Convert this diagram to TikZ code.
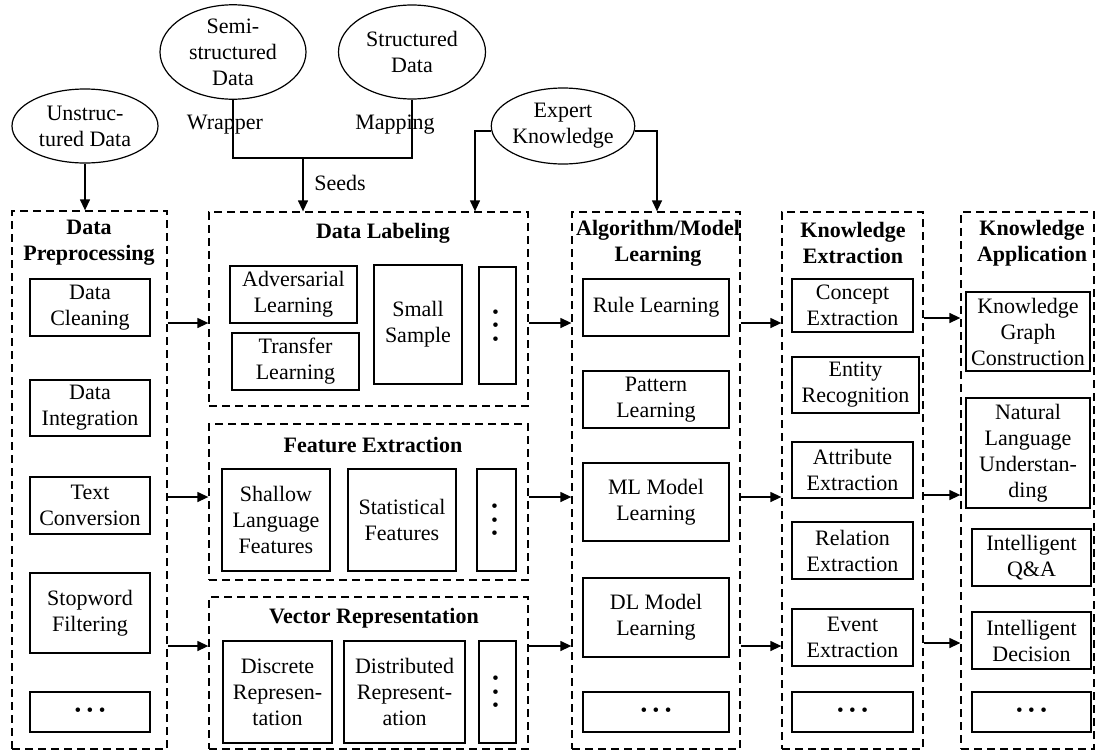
\documentclass[tikz,border=0pt]{standalone}
\usepackage{fontspec}
\setmainfont{Liberation Serif}
\usetikzlibrary{shapes.geometric,arrows.meta}

% rectangle node given by its two corners: style, name, x1, y1, x2, y2, text
\newcommand\putbox[7]{%
  \node[#1, minimum width={(#5-#3)*1pt}, minimum height={(#6-#4)*1pt}]
    (#2) at ({(#3+#5)/2},{(#4+#6)/2}) {#7};}
\newcommand\rowdots{\textbullet\hspace{5.5pt}\textbullet\hspace{5.5pt}\textbullet}
\newcommand\coldots{\textbullet\hspace{6.8pt}\textbullet\hspace{6.8pt}\textbullet}

\begin{document}
\begin{tikzpicture}[x=1pt,y=-1pt,
  every node/.style={font=\fontsize{22}{26}\selectfont, align=center},
  item/.style={draw, line width=1.3pt, inner sep=0pt, rectangle},
  group/.style={draw, line width=1.3pt, dash pattern=on 8pt off 5pt, inner sep=0pt, rectangle},
  blob/.style={draw, ellipse, line width=1.2pt, inner sep=0pt},
  title/.style={font=\fontsize{22}{26}\selectfont\bfseries},
  dotrow/.style={item, font=\fontsize{19}{19}\selectfont},
  dotcol/.style={inner sep=0pt, rotate=90, font=\fontsize{19}{19}\selectfont},
  link/.style={line width=1.3pt, -{Triangle[length=11pt,width=10pt]}},
  wire/.style={line width=1.3pt},
]
\useasboundingbox (0,0) rectangle (1097,753);

% ---------- sources ----------
\node[blob, minimum width=146pt, minimum height=74pt] (unstr) at (85,126) {Unstruc-\\tured Data};
\node[blob, minimum width=146pt, minimum height=94pt] (semi) at (233,52) {Semi-\\structured\\Data};
\node[blob, minimum width=147pt, minimum height=94pt] (struct) at (412,52) {Structured\\Data};
\node[blob, minimum width=136pt, minimum height=76pt] (expert) at (563,126) {Expert\\Knowledge};

\node (wrap) at (225,125) {Wrapper};
\node (mapl) at (395,125) {Mapping};
\node (seedl) at (340,183) {Seeds};

% ---------- column 1: data preprocessing ----------
\putbox{group}{dp}{12}{211}{167}{749}{}
\node[title] (dpt) at (89,243) {Data\\Preprocessing};
\putbox{item}{dc}{30}{279}{150}{336}{Data\\Cleaning}
\putbox{item}{di}{30}{380}{150}{436}{Data\\Integration}
\putbox{item}{tc}{30}{477}{150}{534}{Text\\Conversion}
\putbox{item}{sf}{30}{573}{150}{653}{Stopword\\Filtering}
\putbox{dotrow}{d1}{30}{692}{150}{732}{\rowdots}

% ---------- column 2: labeling, features, vectors ----------
\putbox{group}{dl}{209}{212}{528}{406}{}
\node[title] (dlt) at (383,233) {Data Labeling};
\putbox{item}{adv}{230}{266}{357}{323}{Adversarial\\Learning}
\putbox{item}{tl}{232}{333}{359}{390}{Transfer\\Learning}
\putbox{item}{ss}{374}{265}{462}{384}{Small\\Sample}
\putbox{item}{dld}{479}{267}{516}{384}{}
\node[dotcol] (dldt) at (dld) {\coldots};

\putbox{group}{fe}{209}{424}{528}{580}{}
\node[title] (fet) at (373,445) {Feature Extraction};
\putbox{item}{slf}{222}{469}{330}{571}{Shallow\\Language\\Features}
\putbox{item}{stf}{348}{469}{456}{571}{Statistical\\Features}
\putbox{item}{fed}{477}{469}{516}{571}{}
\node[dotcol] (fedt) at (fed) {\coldots};

\putbox{group}{vr}{209}{597}{528}{749}{}
\node[title] (vrt) at (374,618) {Vector Representation};
\putbox{item}{drp}{223}{641}{332}{743}{Discrete\\Represen-\\tation}
\putbox{item}{dsr}{344}{641}{465}{743}{Distributed\\Represent-\\ation}
\putbox{item}{vrd}{479}{641}{516}{743}{}
\node[dotcol] (vrdt) at (vrd) {\coldots};

% ---------- column 3: algorithm / model learning ----------
\putbox{group}{alg}{572}{212}{740}{749}{}
\node[title] (algt) at (658,243) {Algorithm/Model\\Learning};
\putbox{item}{rl}{583}{279}{729}{336}{Rule Learning}
\putbox{item}{pl}{583}{371}{729}{428}{Pattern\\Learning}
\putbox{item}{ml}{583}{463}{729}{541}{ML Model\\Learning}
\putbox{item}{dlm}{583}{578}{729}{657}{DL Model\\Learning}
\putbox{dotrow}{d3}{583}{692}{729}{732}{\rowdots}

% ---------- column 4: knowledge extraction ----------
\putbox{group}{ke}{782}{212}{923}{749}{}
\node[title] (ket) at (853,243) {Knowledge\\Extraction};
\putbox{item}{ce}{792}{279}{913}{332}{Concept\\Extraction}
\putbox{item}{er}{792}{357}{919}{413}{Entity\\Recognition}
\putbox{item}{ae}{792}{442}{913}{498}{Attribute\\Extraction}
\putbox{item}{re}{792}{522}{913}{579}{Relation\\Extraction}
\putbox{item}{ee}{792}{609}{913}{666}{Event\\Extraction}
\putbox{dotrow}{d4}{792}{692}{913}{732}{\rowdots}

% ---------- column 5: knowledge application ----------
\putbox{group}{ka}{961}{212}{1094}{749}{}
\node[title] (kat) at (1032,243) {Knowledge\\Application};
\putbox{item}{kgc}{966}{292}{1090}{371}{Knowledge\\Graph\\Construction}
\putbox{item}{nlu}{966}{398}{1090}{508}{Natural\\Language\\Understan-\\ding}
\putbox{item}{qa}{972}{529}{1091}{586}{Intelligent\\Q\&A}
\putbox{item}{idc}{972}{612}{1091}{669}{Intelligent\\Decision}
\putbox{dotrow}{d5}{972}{692}{1091}{732}{\rowdots}

% ---------- connectors from the sources ----------
\draw[link] (unstr) -- (unstr |- dp.north);

\coordinate (seed) at (303,158);
\draw[wire] (semi) -- (semi |- seed) -- (struct |- seed) -- (struct);
\draw[link] (seed) -- (seed |- dl.north);

\coordinate (eL) at (475,131);
\coordinate (eR) at (657,131);
\draw[link] (eL -| expert.west) -- (eL) -- (eL |- dl.north);
\draw[link] (eR -| expert.east) -- (eR) -- (eR |- alg.north);

% ---------- flow between the columns ----------
\coordinate (a1) at (0,323);
\coordinate (a2) at (0,497);
\coordinate (a3) at (0,646);
\coordinate (b1) at (0,318);
\coordinate (b2) at (0,495);
\coordinate (b3) at (0,643);

\draw[link] (dp.east |- a1) -- (dl.west |- a1);
\draw[link] (dp.east |- a2) -- (fe.west |- a2);
\draw[link] (dp.east |- a3) -- (vr.west |- a3);

\draw[link] (dl.east |- a1) -- (alg.west |- a1);
\draw[link] (fe.east |- a2) -- (alg.west |- a2);
\draw[link] (vr.east |- a3) -- (alg.west |- a3);

\draw[link] (alg.east |- a1) -- (ke.west |- a1);
\draw[link] (alg.east |- a2) -- (ke.west |- a2);
\draw[link] (alg.east |- a3) -- (ke.west |- a3);

\draw[link] (ke.east |- b1) -- (ka.west |- b1);
\draw[link] (ke.east |- b2) -- (ka.west |- b2);
\draw[link] (ke.east |- b3) -- (ka.west |- b3);
\end{tikzpicture}
\end{document}
